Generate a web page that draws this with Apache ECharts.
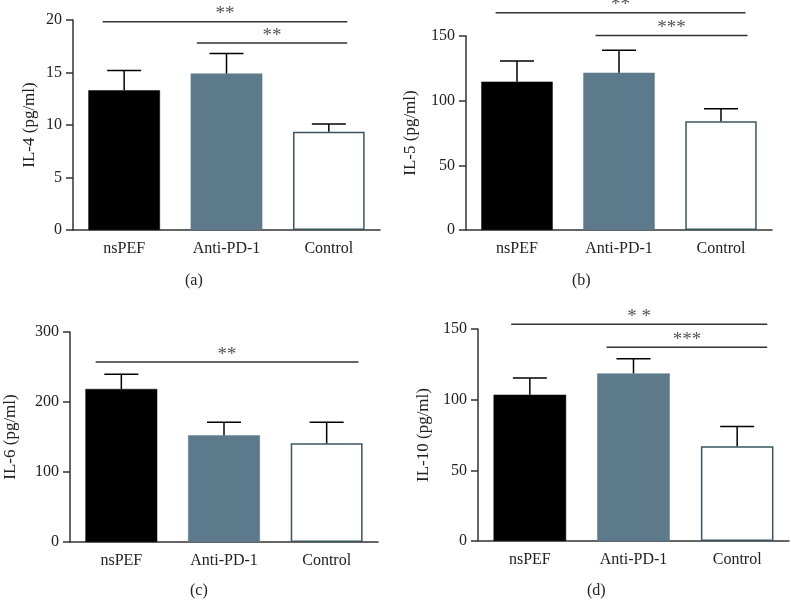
<!DOCTYPE html>
<html>
<head>
<meta charset="utf-8">
<script src="https://cdn.jsdelivr.net/npm/echarts@6/dist/echarts.min.js"></script>
<style>
html,body{margin:0;padding:0;background:#fff;}
#chart{width:791px;height:600px;}
</style>
</head>
<body>
<div id="chart"></div>
<script>
const categories = ['nsPEF', 'Anti-PD-1', 'Control'];

const il4Mean = [13.3, 14.9, 9.35];
const il4Upper = [15.2, 16.8, 10.1];
const il5Mean = [114.7, 121.6, 84];
const il5Upper = [130.7, 139, 93.8];
const il6Mean = [218.6, 152.4, 141];
const il6Upper = [239.6, 171, 171];
const il10Mean = [103.5, 118.6, 67.1];
const il10Upper = [115.3, 129, 81];

const yTitles = ['IL-4 (pg/ml)', 'IL-5 (pg/ml)', 'IL-6 (pg/ml)', 'IL-10 (pg/ml)'];
const yMax = [20, 150, 300, 150];
const yInterval = [5, 50, 100, 50];
const panelLabels = ['(a)', '(b)', '(c)', '(d)'];

// significance bars: [y, start (category units from first category), end]
const sigA = [[19.84, -0.21, 2.18], [17.8, 0.71, 2.18]];
const sigALabels = ['**', '**'];
const sigB = [[168, -0.21, 2.24], [150.3, 0.77, 2.26]];
const sigBLabels = ['**', '***'];
const sigC = [[257, -0.25, 2.31]];
const sigCLabels = ['**'];
const sigD = [[153.3, -0.18, 2.29], [137, 0.74, 2.29]];
const sigDLabels = ['* *', '***'];

const FONT = '"Liberation Serif", "Times New Roman", serif';
const barColors = ['#000000', '#5c7a8c', '#ffffff'];
const barBorders = ['#000000', '#5c7a8c', '#3b5663'];

const grids = [
  {left: 73, top: 20, width: 307, height: 210},
  {left: 466, top: 36, width: 306, height: 194},
  {left: 70, top: 332, width: 308, height: 210},
  {left: 478, top: 329, width: 311, height: 212}
];
const nameGaps = [35, 47, 51, 46];
const means = [il4Mean, il5Mean, il6Mean, il10Mean];
const uppers = [il4Upper, il5Upper, il6Upper, il10Upper];
const sigs = [sigA, sigB, sigC, sigD];
const sigLabels = [sigALabels, sigBLabels, sigCLabels, sigDLabels];
const panelLabelPos = [[195, 282], [582, 282], [200, 592], [597, 592]];

const xAxes = [], yAxes = [], series = [], graphics = [];
for (let i = 0; i < 4; i++) {
  xAxes.push({
    type: 'category', gridIndex: i, data: categories,
    axisLine: {lineStyle: {color: '#333', width: 1.5}},
    axisTick: {alignWithLabel: true, length: 7, lineStyle: {color: '#333', width: 1.5}},
    axisLabel: {color: '#222', fontFamily: FONT, fontSize: 16, margin: 11}
  });
  yAxes.push({
    type: 'value', gridIndex: i, min: 0, max: yMax[i], interval: yInterval[i],
    name: yTitles[i], nameLocation: 'middle', nameGap: nameGaps[i],
    nameTextStyle: {color: '#222', fontFamily: FONT, fontSize: 17},
    splitLine: {show: false},
    axisLine: {show: true, lineStyle: {color: '#333', width: 1.5}},
    axisTick: {show: true, length: 7, lineStyle: {color: '#333', width: 1.5}},
    axisLabel: {color: '#222', fontFamily: FONT, fontSize: 16, margin: 11}
  });
  series.push({
    type: 'bar', xAxisIndex: i, yAxisIndex: i, barWidth: '70%',
    silent: true,
    data: means[i].map((v, k) => ({
      value: v,
      itemStyle: {color: barColors[k], borderColor: barBorders[k], borderWidth: k === 2 ? 1.5 : 0.5}
    })),
    z: 2
  });
  series.push({
    type: 'custom', xAxisIndex: i, yAxisIndex: i, silent: true, z: 3,
    data: means[i].map((v, k) => [k, v, uppers[i][k]]),
    encode: {x: 0, y: 2},
    renderItem: function (params, api) {
      const c = api.value(0);
      const top = api.coord([c, api.value(2)]);
      const base = api.coord([c, api.value(1)]);
      const half = 17;
      return {
        type: 'group',
        children: [
          {type: 'line', shape: {x1: top[0], y1: base[1], x2: top[0], y2: top[1]}, style: {stroke: '#000', lineWidth: 1.5}},
          {type: 'line', shape: {x1: top[0] - half, y1: top[1], x2: top[0] + half, y2: top[1]}, style: {stroke: '#000', lineWidth: 1.5}}
        ]
      };
    }
  });
  const labs = sigLabels[i];
  series.push({
    type: 'custom', xAxisIndex: i, yAxisIndex: i, silent: true, z: 4, clip: false,
    data: sigs[i].map(s => [0, s[0], s[1], s[2]]),
    encode: {x: 0, y: 1},
    renderItem: function (params, api) {
      const y = api.value(1);
      const c0 = api.coord([0, y]);
      const band = api.size([1, 0])[0];
      const x1 = c0[0] + api.value(2) * band;
      const x2 = c0[0] + api.value(3) * band;
      return {
        type: 'group',
        children: [
          {type: 'line', shape: {x1: x1, y1: c0[1], x2: x2, y2: c0[1]}, style: {stroke: '#333', lineWidth: 1.5}},
          {type: 'text', style: {text: labs[params.dataIndex], x: (x1 + x2) / 2, y: c0[1] + 2,
            textAlign: 'center', textVerticalAlign: 'bottom', font: '19px ' + FONT, fill: '#555'}}
        ]
      };
    }
  });
  graphics.push({
    type: 'text', left: panelLabelPos[i][0] - 10, top: panelLabelPos[i][1] - 9,
    style: {text: panelLabels[i], font: '16px ' + FONT, fill: '#222'}
  });
}

const chart = echarts.init(document.getElementById('chart'), null, {renderer: 'canvas'});
chart.setOption({
  animation: false,
  backgroundColor: '#ffffff',
  grid: grids,
  xAxis: xAxes,
  yAxis: yAxes,
  series: series,
  graphic: graphics
});
</script>
</body>
</html>
